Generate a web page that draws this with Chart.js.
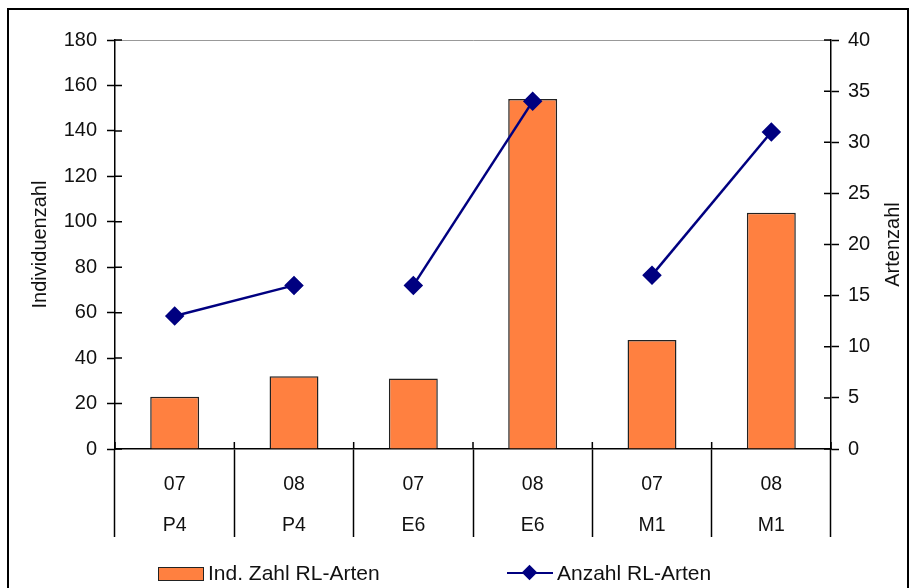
<!DOCTYPE html>
<html>
<head>
<meta charset="utf-8">
<script src="https://cdn.jsdelivr.net/npm/chart.js@4"></script>
<style>
    html, body { margin: 0; padding: 0; background: #fff; }
    #wrap { position: relative; width: 910px; height: 588px; overflow: hidden; }
    #chart { position: absolute; left: 0; top: 0; }
    #frame { position: absolute; left: 7px; top: 8px; width: 898px; height: 600px; border: 2px solid #000; pointer-events: none; }
    #legend { position: absolute; left: 0; top: 561px; width: 910px; font: 21px "Liberation Sans", Arial, sans-serif; color: #111; }
    .lg-item { position: absolute; top: 0; height: 24px; line-height: 24px; white-space: nowrap; }
    .lg-box { position: absolute; left: 0; top: 6px; width: 44px; height: 12px; background: #FF8040; border: 1px solid #222; }
    .lg-line { position: absolute; left: 0; top: 11px; width: 46px; height: 2px; background: #000080; }
    .lg-diamond { position: absolute; left: 17px; top: 6px; width: 11px; height: 11px; background: #000080; transform: rotate(45deg); }
    .lg-text { position: absolute; left: 50px; top: 0; }
</style>
</head>
<body>
<div id="wrap">
    <canvas id="chart" width="910" height="588"></canvas>
    <div id="frame"></div>
    <div id="legend">
        <div class="lg-item" style="left:158px"><span class="lg-box"></span><span class="lg-text">Ind. Zahl RL-Arten</span></div>
        <div class="lg-item" style="left:507px"><span class="lg-line"></span><span class="lg-diamond"></span><span class="lg-text">Anzahl RL-Arten</span></div>
    </div>
</div>
<script>
// ── Data ──
const years = ['07', '08', '07', '08', '07', '08'];
const sites = ['P4', 'P4', 'E6', 'E6', 'M1', 'M1'];
const individuals = [23, 32, 31, 154, 48, 104];   // left axis, bars
const species = [13, 16, 16, 34, 17, 31];          // right axis, line
const leftTicks = [0, 20, 40, 60, 80, 100, 120, 140, 160, 180];
const rightTicks = [0, 5, 10, 15, 20, 25, 30, 35, 40];

const FAMILY = '"Liberation Sans", Arial, sans-serif';
const INK = '#111';

// Draws the inner half of the "+" tick marks and the right axis title (reads bottom-to-top)
const extrasPlugin = {
    id: 'extras',
    afterDraw(chart) {
        const { ctx, chartArea, scales } = chart;
        ctx.save();
        ctx.strokeStyle = '#000';
        ctx.lineWidth = 1.5;
        ctx.beginPath();
        scales.y.ticks.forEach((t, i) => {
            const py = scales.y.getPixelForTick(i);
            ctx.moveTo(chartArea.left, py); ctx.lineTo(chartArea.left + 7, py);
        });
        scales.y1.ticks.forEach((t, i) => {
            const py = scales.y1.getPixelForTick(i);
            ctx.moveTo(chartArea.right, py); ctx.lineTo(chartArea.right - 7, py);
        });
        // category separators poke a bit above the x axis
        for (let i = 0; i <= years.length; i++) {
            const px = i < years.length ? scales.x.getPixelForValue(i) - scales.x.width / years.length / 2 : chartArea.right;
            ctx.moveTo(px, chartArea.bottom); ctx.lineTo(px, chartArea.bottom - 7);
        }
        ctx.stroke();

        ctx.fillStyle = INK;
        ctx.font = '20px ' + FAMILY;
        ctx.textAlign = 'center';
        ctx.textBaseline = 'middle';
        ctx.translate(893, (chartArea.top + chartArea.bottom) / 2);
        ctx.rotate(-Math.PI / 2);
        ctx.fillText('Artenzahl', 0, 0);
        ctx.restore();
    }
};

new Chart(document.getElementById('chart'), {
    data: {
        labels: years.map((y, i) => [y, sites[i]]),
        datasets: [
            {
                type: 'line',
                label: 'Anzahl RL-Arten',
                data: species,
                yAxisID: 'y1',
                borderColor: '#000080',
                backgroundColor: '#000080',
                borderWidth: 2.5,
                pointStyle: 'rectRot',
                pointRadius: 8,
                pointHoverRadius: 8,
                tension: 0,
                // only connect the two years of the same site
                segment: {
                    borderColor: c => sites[c.p0DataIndex] === sites[c.p1DataIndex] ? '#000080' : 'transparent'
                },
                order: 0
            },
            {
                type: 'bar',
                label: 'Ind. Zahl RL-Arten',
                data: individuals,
                yAxisID: 'y',
                backgroundColor: '#FF8040',
                borderColor: '#222',
                borderWidth: 1.5,
                barPercentage: 0.41,
                categoryPercentage: 1,
                order: 1
            }
        ]
    },
    options: {
        responsive: false,
        animation: false,
        layout: { padding: { top: 40, bottom: 39, left: 0, right: 0 } },
        plugins: { legend: { display: false }, tooltip: { enabled: false } },
        scales: {
            x: {
                offset: true,
                border: { color: '#000', width: 1.5 },
                grid: { offset: true, drawOnChartArea: false, tickLength: 88, tickColor: '#000', tickWidth: 1.5 },
                ticks: { color: INK, font: { family: FAMILY, size: 19.5, lineHeight: 2.1 }, padding: -73, maxRotation: 0 },
                afterFit: s => { s.height = 100; }
            },
            y: {
                position: 'left',
                min: 0, max: 180,
                afterBuildTicks: s => { s.ticks = leftTicks.map(v => ({ value: v })); },
                border: { color: '#000', width: 1.5 },
                grid: {
                    color: c => c.tick && c.tick.value === 180 ? '#999' : 'transparent',
                    tickColor: '#000', tickLength: 8, tickWidth: 1.5
                },
                ticks: { color: INK, font: { family: FAMILY, size: 20 }, padding: 10 },
                title: { display: true, text: 'Individuenzahl', color: INK, font: { family: FAMILY, size: 20 }, padding: { top: 28 } },
                afterFit: s => { s.width = 115; }
            },
            y1: {
                position: 'right',
                min: 0, max: 40,
                afterBuildTicks: s => { s.ticks = rightTicks.map(v => ({ value: v })); },
                border: { color: '#000', width: 1.5 },
                grid: { drawOnChartArea: false, tickColor: '#000', tickLength: 8, tickWidth: 1.5 },
                ticks: { color: INK, font: { family: FAMILY, size: 20 }, padding: 9 },
                afterFit: s => { s.width = 79; }
            }
        }
    },
    plugins: [extrasPlugin]
});
</script>
</body>
</html>
